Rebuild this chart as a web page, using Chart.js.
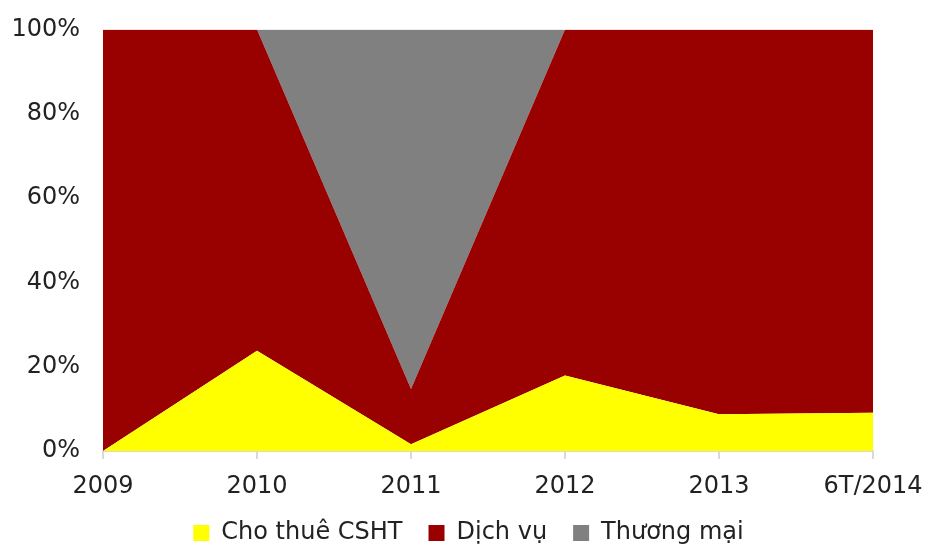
<!DOCTYPE html>
<html>
<head>
<meta charset="utf-8">
<script src="https://cdn.jsdelivr.net/npm/chart.js@4/dist/chart.umd.min.js"></script>
<style>
  html, body { margin: 0; padding: 0; background: #fff; }
  #wrap { width: 927px; height: 546px; position: relative; }
</style>
</head>
<body>
<div id="wrap"><canvas id="myChart"></canvas></div>
<script>
let years = ["2009", "2010", "2011", "2012", "2013", "6T/2014"];
let choThue = [0, 23.8, 1.6, 17.9, 8.7, 9.1];
let dichVu = [100, 76.2, 13.1, 82.1, 91.3, 90.9];
let thuongMai = [0, 0, 85.3, 0, 0, 0];
let yTicks = [0, 20, 40, 60, 80, 100];

let font = "'DejaVu Sans', Verdana, sans-serif";

function makeSet(label, values, color, fill) {
  return {
    label: label,
    data: values,
    backgroundColor: color,
    borderColor: color,
    borderWidth: 0,
    pointRadius: 0,
    tension: 0,
    fill: fill,
  };
}

const config = {
  type: "line",
  data: {
    labels: years,
    datasets: [
      makeSet("Cho thuê CSHT", choThue, "#ffff00", "origin"),
      makeSet("Dịch vụ", dichVu, "#990000", "-1"),
      makeSet("Thương mại", thuongMai, "#808080", "-1"),
    ],
  },
  options: {
    responsive: false,
    animation: false,
    layout: { padding: { left: 10, right: 0, top: -1, bottom: -9 } },
    plugins: {
      tooltip: { enabled: false },
      legend: {
        position: "bottom",
        labels: {
          color: "#222",
          font: { family: font, size: 24 },
          boxWidth: 16,
          boxHeight: 16,
          padding: 26,
        },
      },
    },
    scales: {
      x: {
        offset: false,
        afterFit: (axis) => {
          axis.height = 44;
          axis.paddingLeft = 0;
          axis.paddingRight = 54;
        },
        grid: {
          display: true,
          drawOnChartArea: false,
          drawTicks: true,
          tickLength: 8,
          color: "#d9d9d9",
          lineWidth: 2,
        },
        border: { display: true, color: "#d9d9d9", width: 2 },
        ticks: {
          color: "#222",
          font: { family: font, size: 24 },
          padding: 13,
          maxRotation: 0,
          autoSkip: false,
        },
      },
      y: {
        stacked: true,
        min: 0,
        max: 100,
        afterBuildTicks: (axis) => {
          axis.ticks = yTicks.map((v) => ({ value: v }));
        },
        afterFit: (axis) => {
          axis.width = 93;
        },
        grid: { display: false },
        border: { display: false },
        ticks: {
          color: "#222",
          font: { family: font, size: 24 },
          padding: 15,
          callback: (v) => v + "%",
        },
      },
    },
  },
};

let canvas = document.getElementById("myChart");
canvas.width = 927;
canvas.height = 546;
new Chart(canvas, config);
</script>
</body>
</html>
